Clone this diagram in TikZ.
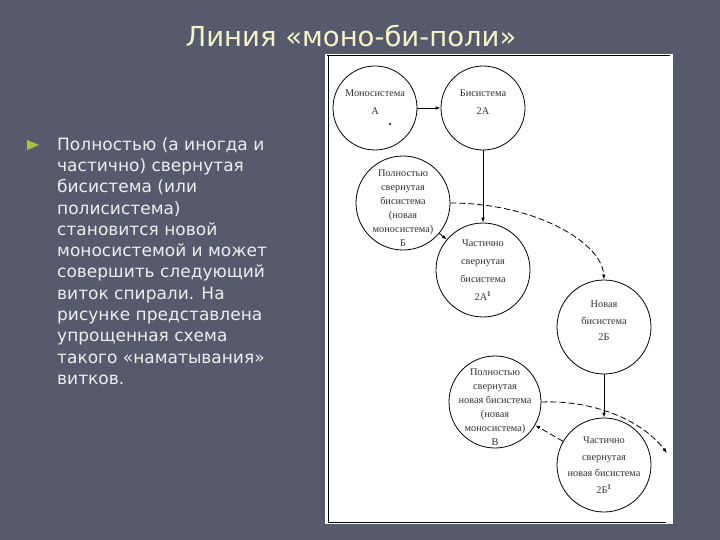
\documentclass[tikz,border=0pt]{standalone}
\usepackage{fontspec}
\setmainfont{Liberation Serif}
\setsansfont{DejaVu Sans}
\usetikzlibrary{arrows.meta}
\definecolor{slidebg}{HTML}{565A6C}
\definecolor{titlecol}{HTML}{F4F4C8}
\definecolor{bodycol}{HTML}{EEEEEE}
\definecolor{bulletcol}{HTML}{A9C43C}
\tikzset{
  sys/.style={draw, line width=0.8pt, circle, inner sep=0pt, fill=white},
  systxt/.style={align=center, inner sep=0pt, text=black!80},
  solidarr/.style={line width=0.8pt, -{Latex[length=5pt,width=3.5pt]}},
  dasharr/.style={line width=0.8pt, dash pattern=on 6pt off 3pt, -{Latex[length=5pt,width=3.5pt]}},
}
\newcommand{\sysnode}[7]{\node[sys, minimum size=#4, label={[systxt, yshift=#5, font=\fontsize{10.3}{#6}\selectfont]center:#7}] (#1) at (#2,#3) {};}

\begin{document}
\begin{tikzpicture}[x=1pt,y=-1pt]
  \useasboundingbox (0,0) rectangle (720,540);
  \fill[slidebg] (0,0) rectangle (720,540);
  % title and text
  \node[anchor=base, text=titlecol, font=\sffamily\fontsize{27.5}{30}\selectfont] (title) at (351,47) {Линия «моно-би-поли»};
  \fill[bulletcol] (27,140) -- (39,145) -- (27,150) -- cycle;
  \node[anchor=north west, inner sep=0pt, align=left, text=bodycol, font=\sffamily\fontsize{17}{21.3}\selectfont] (body) at (57,137)
    {Полностью (а иногда и\\частично) свернутая\\бисистема (или\\полисистема)\\становится новой\\моносистемой и может\\совершить следующий\\виток спирали. На\\рисунке представлена\\упрощенная схема\\такого «наматывания»\\витков.};
  % panel
  \fill[white] (325,54) rectangle (673,524);
  \draw[line width=1pt] (327,56) -- (670,56);
  \draw[line width=1pt] (328,56) -- (328,522) -- (666,522);
  % circles
  \sysnode{mA}{375}{108}{84pt}{6pt}{18}{Моносистема\\А}
  \sysnode{bA}{483}{108}{84pt}{6pt}{18}{Бисистема\\2А}
  \sysnode{fB}{403}{203}{94pt}{-5pt}{14}{Полностью\\свернутая\\бисистема\\(новая\\моносистема)\\Б}
  \sysnode{pA}{483}{270}{94pt}{0pt}{18}{Частично\\свернутая\\бисистема\\2А$^{\mathbf{1}}$}
  \sysnode{nB}{604}{327}{94pt}{6pt}{16.5}{Новая\\бисистема\\2Б}
  \sysnode{fV}{495}{402}{92pt}{-5pt}{14}{Полностью\\свернутая\\новая бисистема\\(новая\\моносистема)\\В}
  \sysnode{pB}{604}{465}{94pt}{0pt}{16.7}{Частично\\свернутая\\новая бисистема\\2Б$^{\mathbf{1}}$}
  \fill (390,124) circle (1.2);
  % connectors
  \coordinate (tail) at (667,453);
  \draw[solidarr] (mA) -- (bA);
  \draw[solidarr] (bA) -- (pA);
  \draw[solidarr] (fB) -- (pA);
  \draw[dasharr] (fB.east) .. controls (534,203) and (602,242) .. (nB.north);
  \draw[solidarr] (nB) -- (pB);
  \draw[dasharr] (pB) -- (fV);
  \draw[dasharr] (fV.east) .. controls (590,400) and (640,418) .. (tail);
\end{tikzpicture}
\end{document}
